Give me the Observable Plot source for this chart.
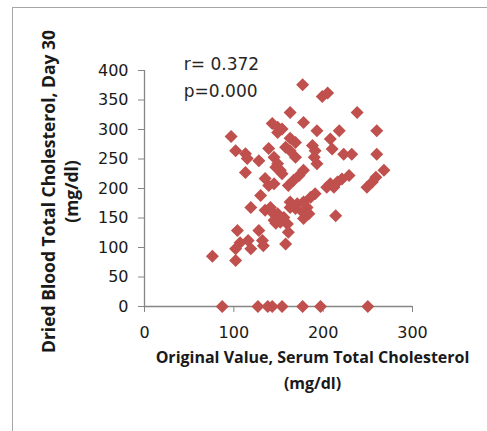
<!DOCTYPE html>
<html><head><meta charset="utf-8">
<script src="https://cdn.jsdelivr.net/npm/d3@7"></script>
<script src="https://cdn.jsdelivr.net/npm/@observablehq/plot@0.6"></script>
<style>
html,body{margin:0;padding:0;background:#fff;}
#wrap{position:relative;width:487px;height:431px;overflow:hidden;background:#fff;}
#frame{position:absolute;left:12px;top:7px;width:700px;height:700px;border-left:1px solid #a6a6a6;border-top:1px solid #a6a6a6;}
#chart{position:absolute;left:0;top:0;}
</style></head><body>
<div id="wrap"><div id="frame"></div><div id="chart"></div></div>
<script>
// Original value, serum total cholesterol (mg/dl)
const serum = [76,97,102,113,115,113,128,139,143,149,135,147,130,139,119,135,144,147,104,128,132,107,102,116,119,133,102,
  177,199,205,163,238,178,193,218,208,260,210,223,232,260,149,154,163,169,158,163,169,188,191,190,193,145,149,152,154,178,173,167,161,145,208,216,221,204,212,229,249,255,259,268,191,186,178,171,163,182,177,184,178,169,163,149,156,145,152,160,161,158,214,141,
  87,127,138,143,154,177,197,250];
// Dried blood total cholesterol, day 30 (mg/dl)
const dried = [85,288,264,259,251,227,247,268,310,295,217,236,188,205,168,163,158,141,129,129,112,108,98,112,98,103,78,
  376,356,362,329,329,312,298,298,284,298,267,258,258,258,304,301,285,278,270,264,253,273,264,253,242,253,242,231,225,231,222,214,205,208,208,211,216,202,202,222,202,211,219,231,191,185,177,174,177,168,160,157,149,166,168,157,151,146,143,140,126,106,154,168,
  0,0,0,0,0,0,0,0];
const xTicks = [0, 100, 200, 300];
const yTicks = [0, 50, 100, 150, 200, 250, 300, 350, 400];
const statLabels = ["r= 0.372", "p=0.000"];
const statX = [44, 44];
const statY = [410, 364];
const xTitle = ["Original Value, Serum Total Cholesterol", "(mg/dl)"];
const yTitle = ["Dried Blood Total Cholesterol, Day 30", "(mg/dl)"];

const points = serum.map((s, i) => ({serum: s, dried: dried[i]}));
const stats = statLabels.map((t, i) => ({t, x: statX[i], y: statY[i]}));

const diamond = {
  draw(ctx, size) {
    const h = Math.sqrt(size / Math.PI);
    ctx.moveTo(0, -h); ctx.lineTo(h, 0); ctx.lineTo(0, h); ctx.lineTo(-h, 0); ctx.closePath();
  }
};

const NUMFONT = "'DejaVu Sans', sans-serif";
const TITLEFONT = "'Open Sans', 'DejaVu Sans', sans-serif";
const axisGray = "#868686";
const red = "#C0504D";

const chart = Plot.plot({
  width: 487,
  height: 431,
  marginLeft: 144,
  marginRight: 75,
  marginTop: 70,
  marginBottom: 125,
  style: {fontFamily: NUMFONT, background: "transparent", overflow: "visible"},
  x: {domain: [0, 300]},
  y: {domain: [0, 400]},
  marks: [
    Plot.axisX({ticks: xTicks, tickSize: 6, tickPadding: 14, label: null, stroke: axisGray, fill: "#1a1a1a", fontSize: 16, fontFamily: NUMFONT}),
    Plot.axisY({ticks: yTicks, tickSize: 6, tickPadding: 10, label: null, stroke: axisGray, fill: "#1a1a1a", fontSize: 16, fontFamily: NUMFONT}),
    Plot.ruleY([0], {stroke: axisGray, strokeWidth: 1.3}),
    Plot.ruleX([0], {stroke: axisGray, strokeWidth: 1.3}),
    Plot.dot(points, {x: "serum", y: "dried", symbol: diamond, r: 6.5, fill: red, stroke: null}),
    Plot.text(stats, {x: "x", y: "y", text: "t", textAnchor: "start", lineAnchor: "middle", fontSize: 17, fontFamily: NUMFONT, fill: "#262626"}),
    Plot.text([xTitle[0]], {text: d => d, frameAnchor: "bottom", dx: 34, dy: 51, textAnchor: "middle", lineAnchor: "middle", fontSize: 16, fontWeight: "bold", fontFamily: TITLEFONT, fill: "#1a1a1a"}),
    Plot.text([xTitle[1]], {text: d => d, frameAnchor: "bottom", dx: 34, dy: 77, textAnchor: "middle", lineAnchor: "middle", fontSize: 16, fontWeight: "bold", fontFamily: TITLEFONT, fill: "#1a1a1a"}),
    Plot.text([yTitle[0]], {text: d => d, frameAnchor: "left", dx: -95, dy: 3, rotate: -90, textAnchor: "middle", lineAnchor: "middle", fontSize: 17.5, fontWeight: "bold", fontFamily: TITLEFONT, fill: "#1a1a1a"}),
    Plot.text([yTitle[1]], {text: d => d, frameAnchor: "left", dx: -72, dy: 3, rotate: -90, textAnchor: "middle", lineAnchor: "middle", fontSize: 17.5, fontWeight: "bold", fontFamily: TITLEFONT, fill: "#1a1a1a"})
  ]
});
document.getElementById("chart").appendChild(chart);
</script>
</body></html>
